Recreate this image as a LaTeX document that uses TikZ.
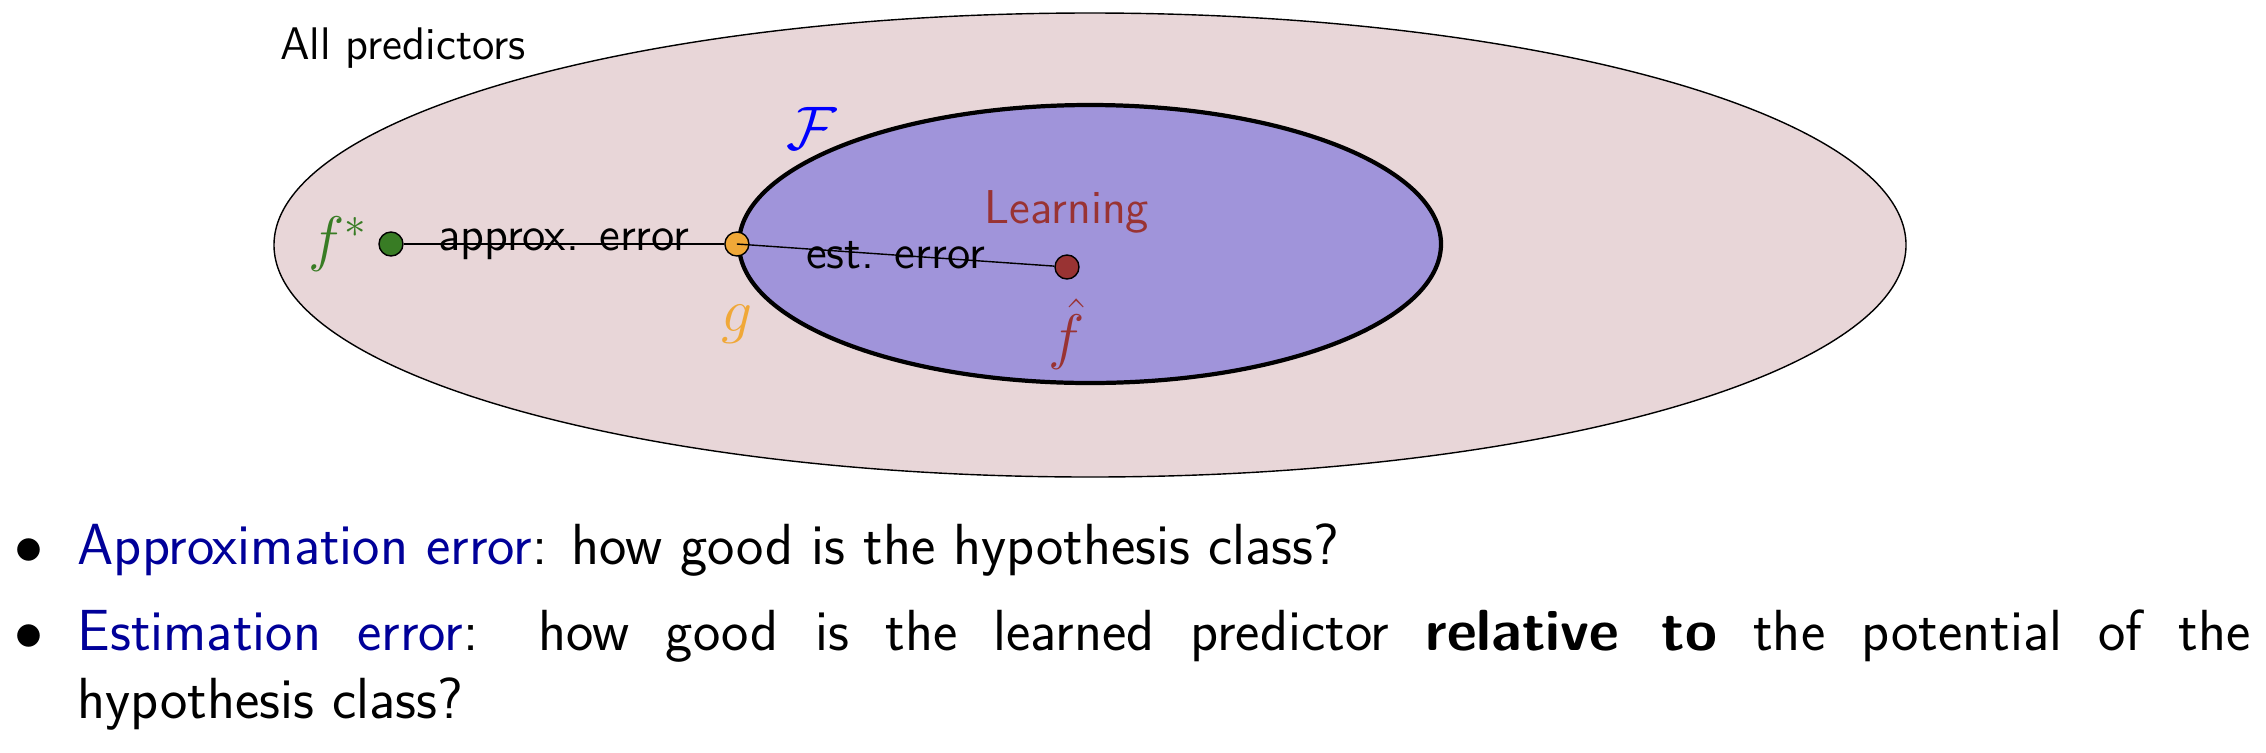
\RequirePackage{fix-cm}
\documentclass[tikz,border=0pt]{standalone}
\usepackage{fontspec}
\usetikzlibrary{shapes.geometric, positioning}

\definecolor{allfill}{RGB}{232,214,216}
\definecolor{hfill}{RGB}{160,148,218}
\definecolor{fstargreen}{RGB}{56,124,36}
\definecolor{gorange}{RGB}{240,168,56}
\definecolor{learnred}{RGB}{153,51,51}
\definecolor{classblue}{RGB}{0,0,255}
\definecolor{itemblue}{RGB}{0,0,153}

\newcommand{\diagfont}{\fontsize{13.5}{16}\selectfont\sffamily}
\newcommand{\setfont}{\fontsize{13}{15.6}\selectfont\sffamily}
\newcommand{\mathlblfont}{\fontsize{17.5}{21}\selectfont}
\newcommand{\itemfont}{\fontsize{16.5}{19.6}\selectfont\sffamily}

\begin{document}
\begin{tikzpicture}[
    dot/.style={circle, draw, thin, inner sep=0pt, minimum size=0.24cm},
    lbl/.style={inner sep=0pt, font=\mathlblfont},
    txt/.style={inner sep=0pt, font=\diagfont},
    itemtext/.style={inner sep=0pt, font=\itemfont, anchor=base west},
    bulletmark/.style={inner sep=0pt, font=\itemfont, anchor=base}
    ]
    \useasboundingbox (0,0) rectangle (22.66,7.52);

    % sets of predictors
    \node[ellipse, draw, thin, fill=allfill, minimum width=16.32cm, minimum height=4.64cm] (allpred) at (10.90,5.07) {};
    \node[ellipse, draw, very thick, fill=hfill, minimum width=7.02cm, minimum height=2.78cm] (hclass) at (10.90,5.08) {};
    \node[inner sep=0pt, font=\setfont] (alltext) at (4.03,7.04) {All predictors};
    \node[lbl, text=classblue] (Fclass) at (8.12,6.24) {$\mathcal{F}$};

    % predictors
    \node[dot, fill=fstargreen] (fstar) at (3.91,5.08) {};
    \node[dot, fill=gorange] (g) at (hclass.west) {};
    \node[dot, fill=learnred] (fhat) at (10.67,4.85) {};
    \node[lbl, text=fstargreen, left=0.1cm of fstar] (fstarlbl) {$f^*$};
    \node[lbl, text=gorange, below=0.48cm of g] (glbl) {$g$};
    \node[lbl, text=learnred, below=0.18cm of fhat] (fhatlbl) {$\hat{f}$};
    \node[txt, text=learnred, above=0.2cm of fhat] (learning) {Learning};

    \draw[thin] (fstar) -- node[txt] (approxerr) {approx. error} (g);
    \draw[thin] (g.center) -- node[txt] (esterr) {est. error} (fhat);

    % the two errors
    \node[bulletmark] (bullet1) at (0.29,1.88) {$\bullet$};
    \node[itemtext] (item1) at (0.77,1.88) {\textcolor{itemblue}{Approximation error}: how good is the hypothesis class?};
    \node[bulletmark] (bullet2) at (0.29,1.02) {$\bullet$};
    \node[itemtext, text width=21.73cm, align=justify] (item2) at (0.77,1.02) {\hyphenpenalty=10000 \textcolor{itemblue}{Estimation error}: how good is the learned predictor \textbf{relative to} the potential of the\linebreak hypothesis class?};
\end{tikzpicture}
\end{document}
